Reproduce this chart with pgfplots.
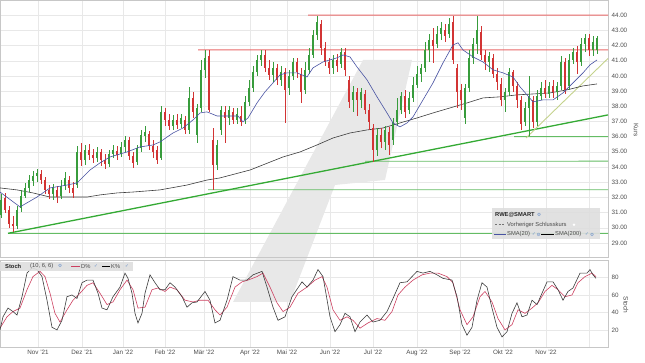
\documentclass[border=0pt]{standalone}
\usepackage{fontspec}
\setmainfont{Liberation Sans}
\newfontfamily\sym{DejaVu Sans}
\usepackage{pgfplots}
\usepackage{pgfplotstable}
\pgfplotsset{compat=1.18}

\definecolor{cgreen}{RGB}{56,156,60}
\definecolor{cred}{RGB}{210,52,52}
\definecolor{hred}{RGB}{232,104,104}
\definecolor{hgreen}{RGB}{100,188,100}
\definecolor{tgreen}{RGB}{52,170,52}
\definecolor{trendolive}{RGB}{196,210,140}
\definecolor{smablue}{RGB}{72,82,162}
\definecolor{smablack}{RGB}{60,60,60}
\definecolor{dred}{RGB}{204,64,96}
\definecolor{kgray}{RGB}{60,60,60}
\definecolor{iconblue}{RGB}{100,140,200}

\pgfplotstableread{
x o h l c
1 30.84 32.22 30.64 31.83
5 31.96 32.29 30.97 31.17
9 31.17 31.43 29.98 30.24
13 30.24 30.77 29.72 30.11
17 30.11 31.43 29.91 31.17
21 31.30 32.49 31.03 32.09
25 32.09 32.95 31.96 32.62
29 32.62 33.47 32.35 33.14
33 33.08 33.74 32.75 33.41
37 33.41 33.87 33.01 33.61
41 33.54 33.80 32.88 33.14
45 33.14 33.34 32.22 32.49
49 32.49 32.81 31.89 32.22
53 32.22 32.88 31.83 32.62
57 32.49 32.75 31.63 32.02
61 32.09 33.14 31.89 32.75
65 32.75 33.67 32.49 33.28
69 33.14 33.41 32.29 32.62
73 32.62 33.01 31.96 32.29
77 32.81 35.39 32.62 34.99
81 34.99 35.58 34.07 34.46
85 34.46 35.45 34.13 35.12
89 35.12 35.52 34.46 34.79
93 34.79 35.19 34.27 34.59
97 34.59 35.32 34.33 34.99
101 34.99 35.19 34.07 34.46
105 34.46 34.86 33.87 34.20
109 34.20 35.12 34.00 34.86
113 34.86 35.45 34.59 35.12
117 35.06 35.39 34.46 34.79
121 34.86 35.65 34.66 35.32
125 35.32 36.05 34.99 35.78
129 35.78 35.98 34.46 34.73
133 34.73 34.99 33.94 34.27
137 34.33 35.45 34.13 35.25
141 35.25 36.44 34.99 36.11
145 36.05 36.70 35.65 36.31
149 36.18 36.37 35.12 35.39
153 35.39 35.78 34.59 34.99
157 35.12 35.39 34.20 34.46
161 34.59 38.02 34.46 37.63
165 37.63 37.89 36.70 37.10
169 37.10 37.49 36.44 36.70
173 36.70 37.43 36.44 37.10
177 37.10 37.49 36.51 36.77
181 36.84 37.49 36.57 37.23
185 37.10 37.36 36.18 36.44
189 36.44 39.28 36.18 38.55
193 38.55 38.95 37.23 37.63
197 36.11 38.15 35.58 37.89
201 37.89 41.05 37.63 40.40
205 40.40 41.71 39.87 41.19
209 41.32 41.71 37.63 37.76
213 35.78 36.57 32.49 34.13
217 34.13 35.78 33.80 35.45
221 36.44 38.02 36.11 37.76
225 37.63 38.02 35.58 37.23
229 37.23 38.02 36.77 37.76
233 37.63 37.89 36.84 37.10
237 37.10 37.89 36.84 37.49
241 37.36 38.02 36.70 36.97
245 37.10 38.68 36.84 38.29
249 38.29 39.74 38.02 39.21
253 39.21 40.66 38.95 40.26
257 40.26 41.38 40.00 41.05
261 41.05 41.71 40.66 41.38
265 41.38 41.71 40.26 40.53
269 40.53 41.05 39.74 40.07
273 40.07 40.92 39.60 40.53
277 40.53 40.79 39.41 39.74
281 39.74 40.66 39.34 40.26
285 40.26 40.53 36.90 39.08
289 39.21 40.40 38.75 40.00
293 40.00 41.19 39.74 40.92
297 40.92 41.19 39.87 40.26
301 40.13 40.53 38.22 38.95
305 39.08 40.92 38.81 40.40
309 40.40 41.85 40.13 41.38
313 41.38 43.03 41.19 42.70
317 42.70 43.95 42.37 43.56
321 43.43 43.69 41.38 41.85
325 41.85 42.24 40.66 40.92
329 40.92 41.19 40.13 40.53
333 40.53 41.38 40.13 41.05
337 41.05 41.45 40.26 40.66
341 40.79 41.85 40.53 41.58
345 41.58 41.85 40.00 40.40
349 39.74 40.00 37.89 38.29
353 38.42 39.34 37.63 38.95
357 38.95 39.21 37.36 38.42
361 38.42 39.21 37.89 38.95
365 38.81 39.08 37.49 37.76
369 37.76 38.15 36.44 36.97
373 36.57 36.84 34.33 35.12
377 35.12 36.57 34.73 36.11
381 36.11 36.57 35.25 35.65
385 35.65 36.70 35.12 36.44
389 36.31 36.64 34.79 35.45
393 35.78 37.23 35.45 36.97
397 36.97 38.55 36.70 37.76
401 37.76 38.95 37.49 38.68
405 38.68 39.08 37.23 37.63
409 37.76 38.95 37.49 38.55
413 38.55 39.93 38.29 39.41
417 39.41 40.66 39.21 40.13
421 40.13 40.79 39.60 40.53
425 40.53 42.24 40.26 41.71
429 41.71 42.77 40.92 42.37
433 42.37 43.16 40.86 41.98
437 42.11 43.30 41.85 42.77
441 42.77 43.56 42.37 43.16
445 43.03 43.43 42.24 42.64
449 42.77 43.82 42.51 43.43
453 43.56 43.95 40.79 41.05
457 40.53 40.79 37.89 38.95
461 39.08 39.47 37.76 38.42
465 37.23 39.47 36.84 39.21
469 39.21 41.71 38.95 41.19
473 41.19 42.51 40.79 42.11
477 42.11 43.95 41.45 43.03
481 42.90 43.30 41.05 41.38
485 41.38 41.71 40.40 40.92
489 40.92 41.58 40.26 41.32
493 41.19 41.45 39.87 40.13
497 40.13 40.53 39.08 39.60
501 39.47 39.87 38.02 38.42
505 38.42 39.21 37.63 38.95
509 38.95 40.53 38.68 40.26
513 40.26 40.40 38.95 39.34
517 39.34 39.60 37.89 38.42
521 38.42 38.68 36.44 36.84
525 36.97 38.29 36.70 37.89
529 37.89 40.00 36.05 38.68
533 38.42 38.68 36.57 36.97
537 36.97 39.08 36.70 38.68
541 38.68 39.60 38.42 39.21
545 39.21 39.74 38.55 38.81
549 38.81 39.60 38.55 39.34
553 39.34 39.74 38.55 38.95
557 38.95 39.60 38.42 39.34
561 39.34 41.32 39.08 40.92
565 40.92 41.19 38.81 39.08
569 39.34 41.45 39.08 41.05
573 41.05 41.85 40.79 41.58
577 41.58 41.98 40.13 40.92
581 40.92 42.51 40.66 42.11
585 42.11 42.77 41.58 42.51
589 42.51 42.77 41.32 41.71
593 41.71 42.64 41.32 42.24
597 41.71 42.64 41.45 42.51
}\candles

\pgfplotsset{
  upcandle/.style={restrict expr to domain={\thisrow{c}-\thisrow{o}}{0:100}},
  downcandle/.style={restrict expr to domain={\thisrow{c}-\thisrow{o}}{-100:-0.001}},
  candleplot/.style 2 args={draw=none, mark=none, forget plot,
    error bars/.cd, y dir=plus, y explicit, error mark=none,
    error bar style={draw=#1, solid, line width=#2}},
  panel/.style={
    scale only axis, anchor=south west, width=608bp,
    xmin=0, xmax=608, no markers,
    xtick={38,82,123,165,204,250,287,330,373,417,460,503,546,589},
    yticklabel pos=right,
    major tick length=0pt,
    axis line style={draw=black!22},
    grid=major, major grid style={draw=black!9, line width=0.4bp},
    tick label style={font=\fontsize{6.3}{7}\selectfont, text=black!70},
  },
}

\begin{document}
\begin{tikzpicture}
\useasboundingbox (0,0) rectangle (645bp,363bp);
% watermark
\fill[black!9] (233bp,61bp) -- (290bp,61bp) -- (335bp,178bp) -- (385bp,183bp) -- (412bp,303bp) -- (363bp,303bp) -- cycle;

\begin{axis}[panel, at={(0bp,106bp)}, height=257bp,
  ymin=28.07, ymax=45.0, ytick={29,...,44}, xticklabels={},
  yticklabel style={/pgf/number format/.cd, fixed, fixed zerofill, precision=2, assume math mode=true},
]
% horizontal support / resistance lines
\addplot[color=hred, line width=0.9bp] coordinates {(308,44.0) (458,44.0) (608,44.001)};
\addplot[color=hred, line width=0.9bp] coordinates {(198,41.71) (400,41.71) (608,41.711)};
\addplot[color=hgreen, line width=0.9bp] coordinates {(8,29.63) (300,29.63) (608,29.631)};
\addplot[color=hgreen, line width=0.9bp] coordinates {(208,32.50) (400,32.50) (608,32.501)};
\addplot[color=hgreen, line width=0.9bp] coordinates {(365,34.38) (480,34.38) (608,34.381)};
\addplot[color=hgreen, line width=0.9bp] coordinates {(514,36.00) (560,36.00) (608,36.001)};
% trend lines
\addplot[color=tgreen, line width=1.3bp] coordinates {(8,29.63) (608,37.43)};
\addplot[color=trendolive, line width=0.9bp] coordinates {(526,35.91) (608,41.15)};
% SMA 200
\addplot[color=smablack, line width=0.6bp] coordinates {
(0,32.62) (17,32.49) (33,32.29) (50,32.02) (70,32.02) (87,32.02) (100,32.16) (117,32.29)
(133,32.35) (160,32.49) (187,32.81) (207,33.14) (220,33.28) (250,33.80) (283,34.66) (300,34.99)
(317,35.45) (333,35.91) (350,36.24) (367,36.44) (383,36.57) (400,36.90) (417,37.23) (433,37.56)
(450,37.89) (467,38.22) (483,38.55) (500,38.62) (517,38.75) (533,38.81) (550,38.88) (567,39.08)
(583,39.34) (597,39.47)};
% candles: wicks
\addplot[upcandle, candleplot={cgreen}{0.5bp}]
  table[x=x, y=l, y error plus expr={\thisrow{h}-\thisrow{l}}] {\candles};
\addplot[downcandle, candleplot={cred}{0.5bp}]
  table[x=x, y=l, y error plus expr={\thisrow{h}-\thisrow{l}}] {\candles};
% candles: bodies
\addplot[upcandle, candleplot={cgreen}{2.1bp}]
  table[x=x, y=o, y error plus expr={max(\thisrow{c}-\thisrow{o},0.06)}] {\candles};
\addplot[downcandle, candleplot={cred}{2.1bp}]
  table[x=x, y=c, y error plus expr={max(\thisrow{o}-\thisrow{c},0.06)}] {\candles};
% SMA 20
\addplot[color=smablue, line width=0.6bp] coordinates {
(0,32.35) (20,31.37) (37,32.02) (50,32.62) (67,32.81) (77,32.95) (90,33.80) (100,34.27)
(110,34.66) (127,34.99) (140,35.32) (153,35.45) (160,35.65) (173,36.24) (183,36.57) (193,37.10)
(200,37.56) (207,37.63) (217,37.36) (227,37.36) (238,37.36) (243,36.97) (248,37.23) (257,38.22)
(265,38.95) (273,39.54) (280,40.07) (287,40.20) (297,40.20) (307,39.93) (313,40.53) (323,40.92)
(337,41.19) (343,41.38) (350,41.25) (357,40.59) (367,39.74) (377,38.62) (387,37.56) (393,36.90)
(400,36.64) (407,36.90) (413,37.30) (423,38.42) (433,39.54) (443,40.86) (453,42.04) (458,42.18)
(463,41.71) (473,41.25) (483,40.92) (493,40.40) (503,40.20) (513,39.93) (520,39.28) (527,38.75)
(533,38.29) (543,38.42) (553,38.42) (563,38.88) (573,39.54) (583,40.20) (590,40.73) (597,41.05)};
\end{axis}

\begin{axis}[panel, at={(0bp,15.6bp)}, height=87.4bp,
  ymin=0, ymax=100, ytick={20,40,60,80},
  yticklabel style={/pgf/number format/assume math mode=true},
  xticklabels={Nov '21, Dez '21, Jan '22, Feb '22, Mär '22, Apr '22, Mai '22, Jun '22, Jul '22, Aug '22, Sep '22, Okt '22, Nov '22, {}},
  xticklabel style={yshift=0.5bp},
]
% D%
\addplot[color=dred, line width=0.6bp] coordinates {
(0,22) (7,35) (13,41) (20,45) (27,66) (33,81) (40,87) (45,81) (50,62) (55,39) (60,29) (67,43)
(73,54) (80,62) (87,71) (93,74) (100,62) (107,49) (113,52) (120,66) (127,77) (133,66) (138,45)
(145,46) (152,66) (158,68) (165,64) (170,69) (177,66) (185,54) (193,52) (200,54) (208,54) (215,43)
(220,37) (227,46) (235,69) (242,75) (248,77) (257,81) (263,85) (270,69) (277,51) (283,41) (290,46)
(298,62) (307,69) (315,77) (322,81) (327,69) (333,43) (340,31) (347,35) (353,31) (360,22) (368,28)
(377,33) (385,31) (392,41) (398,60) (405,69) (413,77) (422,83) (430,85) (438,85) (447,81) (453,74)
(460,43) (467,26) (473,35) (480,58) (485,64) (492,52) (498,33) (505,20) (512,26) (518,43) (525,39)
(532,45) (538,51) (545,64) (552,71) (558,66) (565,58) (572,60) (578,74) (585,81) (592,85) (596,81)};
% K%
\addplot[color=kgray, line width=0.6bp] coordinates {
(0,20) (3,35) (8,45) (13,41) (17,37) (22,58) (27,85) (32,91) (37,89) (42,81) (47,54) (52,23)
(57,20) (62,31) (67,58) (72,60) (77,56) (82,74) (87,77) (93,77) (98,62) (102,45) (107,43) (113,58)
(120,69) (125,85) (128,79) (132,62) (135,39) (138,28) (142,39) (145,62) (150,83) (155,74) (160,66)
(165,66) (170,74) (175,69) (182,58) (187,46) (192,51) (197,52) (205,64) (210,54) (215,28) (220,31)
(227,54) (233,81) (240,77) (247,77) (253,83) (262,87) (267,69) (273,46) (278,31) (285,35) (292,58)
(302,75) (307,69) (313,77) (318,89) (323,81) (330,35) (335,18) (340,26) (345,39) (350,35) (355,18)
(360,29) (367,37) (373,29) (380,31) (387,41) (393,56) (400,74) (407,75) (417,87) (423,85) (430,87)
(437,83) (443,79) (452,77) (457,58) (462,26) (467,14) (472,23) (477,54) (482,74) (487,69) (492,45)
(497,23) (502,12) (507,18) (512,39) (517,51) (522,35) (527,37) (532,54) (537,49) (542,62) (547,75)
(553,75) (558,66) (563,54) (568,64) (573,68) (580,85) (587,85) (590,89) (593,83) (596,79)};
\end{axis}

% axis titles
\node[rotate=-90, font=\fontsize{6.5}{7}\selectfont, text=black!70] at (636bp,233bp) {Kurs};
\node[rotate=-90, font=\fontsize{6.5}{7}\selectfont, text=black!70] at (626bp,58bp) {Stoch};

% main legend box
\fill[black!13, opacity=0.92] (492bp,124bp) rectangle (600bp,155bp);
\node[anchor=west, inner sep=0pt, font=\bfseries\fontsize{5.8}{6}\selectfont, text=black!85] at (495bp,148.5bp) {RWE@SMART};
\node[anchor=west, inner sep=0pt, font=\sym\fontsize{4.5}{5}\selectfont, text=iconblue] at (537bp,148.5bp) {⚙};
\draw[black!55, line width=0.7bp, dash pattern=on 2.2bp off 1.4bp] (495bp,138.3bp) -- (505bp,138.3bp);
\node[anchor=west, inner sep=0pt, font=\fontsize{5.8}{6}\selectfont, text=black!70] at (507bp,138.3bp) {Vorheriger Schlusskurs};
\fill[white] (574bp,138.3bp) circle (1.4bp);
\draw[smablue, line width=1bp] (494bp,128.5bp) -- (506bp,128.5bp);
\node[anchor=west, inner sep=0pt, font=\fontsize{5.8}{6}\selectfont, text=black!70] at (507bp,128.5bp) {SMA(20)};
\node[anchor=west, inner sep=0pt, font=\sym\fontsize{4.5}{5}\selectfont, text=iconblue] at (532bp,128.5bp) {✓};
\node[anchor=west, inner sep=0pt, font=\sym\fontsize{4.5}{5}\selectfont, text=iconblue] at (536.5bp,128.5bp) {⚙};
\draw[black, line width=1bp] (541bp,128.5bp) -- (554bp,128.5bp);
\node[anchor=west, inner sep=0pt, font=\fontsize{5.8}{6}\selectfont, text=black!70] at (555bp,128.5bp) {SMA(200)};
\node[anchor=west, inner sep=0pt, font=\sym\fontsize{4.5}{5}\selectfont, text=iconblue] at (585bp,128.5bp) {✓};
\node[anchor=west, inner sep=0pt, font=\sym\fontsize{4.5}{5}\selectfont, text=iconblue] at (590bp,128.5bp) {⚙};

% stoch legend box
\fill[black!13, opacity=0.92] (0bp,92.2bp) rectangle (133bp,101.2bp);
\node[anchor=west, inner sep=0pt, font=\bfseries\fontsize{5.8}{6}\selectfont, text=black!85] at (5bp,96.7bp) {Stoch};
\node[anchor=west, inner sep=0pt, font=\fontsize{5.8}{6}\selectfont, text=black!70] at (30bp,96.7bp) {(10, 6, 6)};
\node[anchor=west, inner sep=0pt, font=\sym\fontsize{4.5}{5}\selectfont, text=iconblue] at (58bp,96.7bp) {⚙};
\draw[dred, line width=1bp] (71bp,96.7bp) -- (80bp,96.7bp);
\node[anchor=west, inner sep=0pt, font=\fontsize{5.8}{6}\selectfont, text=black!70] at (81bp,96.7bp) {D\%};
\node[anchor=west, inner sep=0pt, font=\sym\fontsize{4.5}{5}\selectfont, text=iconblue] at (94bp,96.7bp) {✓};
\draw[black, line width=1bp] (102bp,96.7bp) -- (110bp,96.7bp);
\node[anchor=west, inner sep=0pt, font=\fontsize{5.8}{6}\selectfont, text=black!70] at (111bp,96.7bp) {K\%};
\node[anchor=west, inner sep=0pt, font=\sym\fontsize{4.5}{5}\selectfont, text=iconblue] at (125bp,96.7bp) {✓};
\end{tikzpicture}
\end{document}
